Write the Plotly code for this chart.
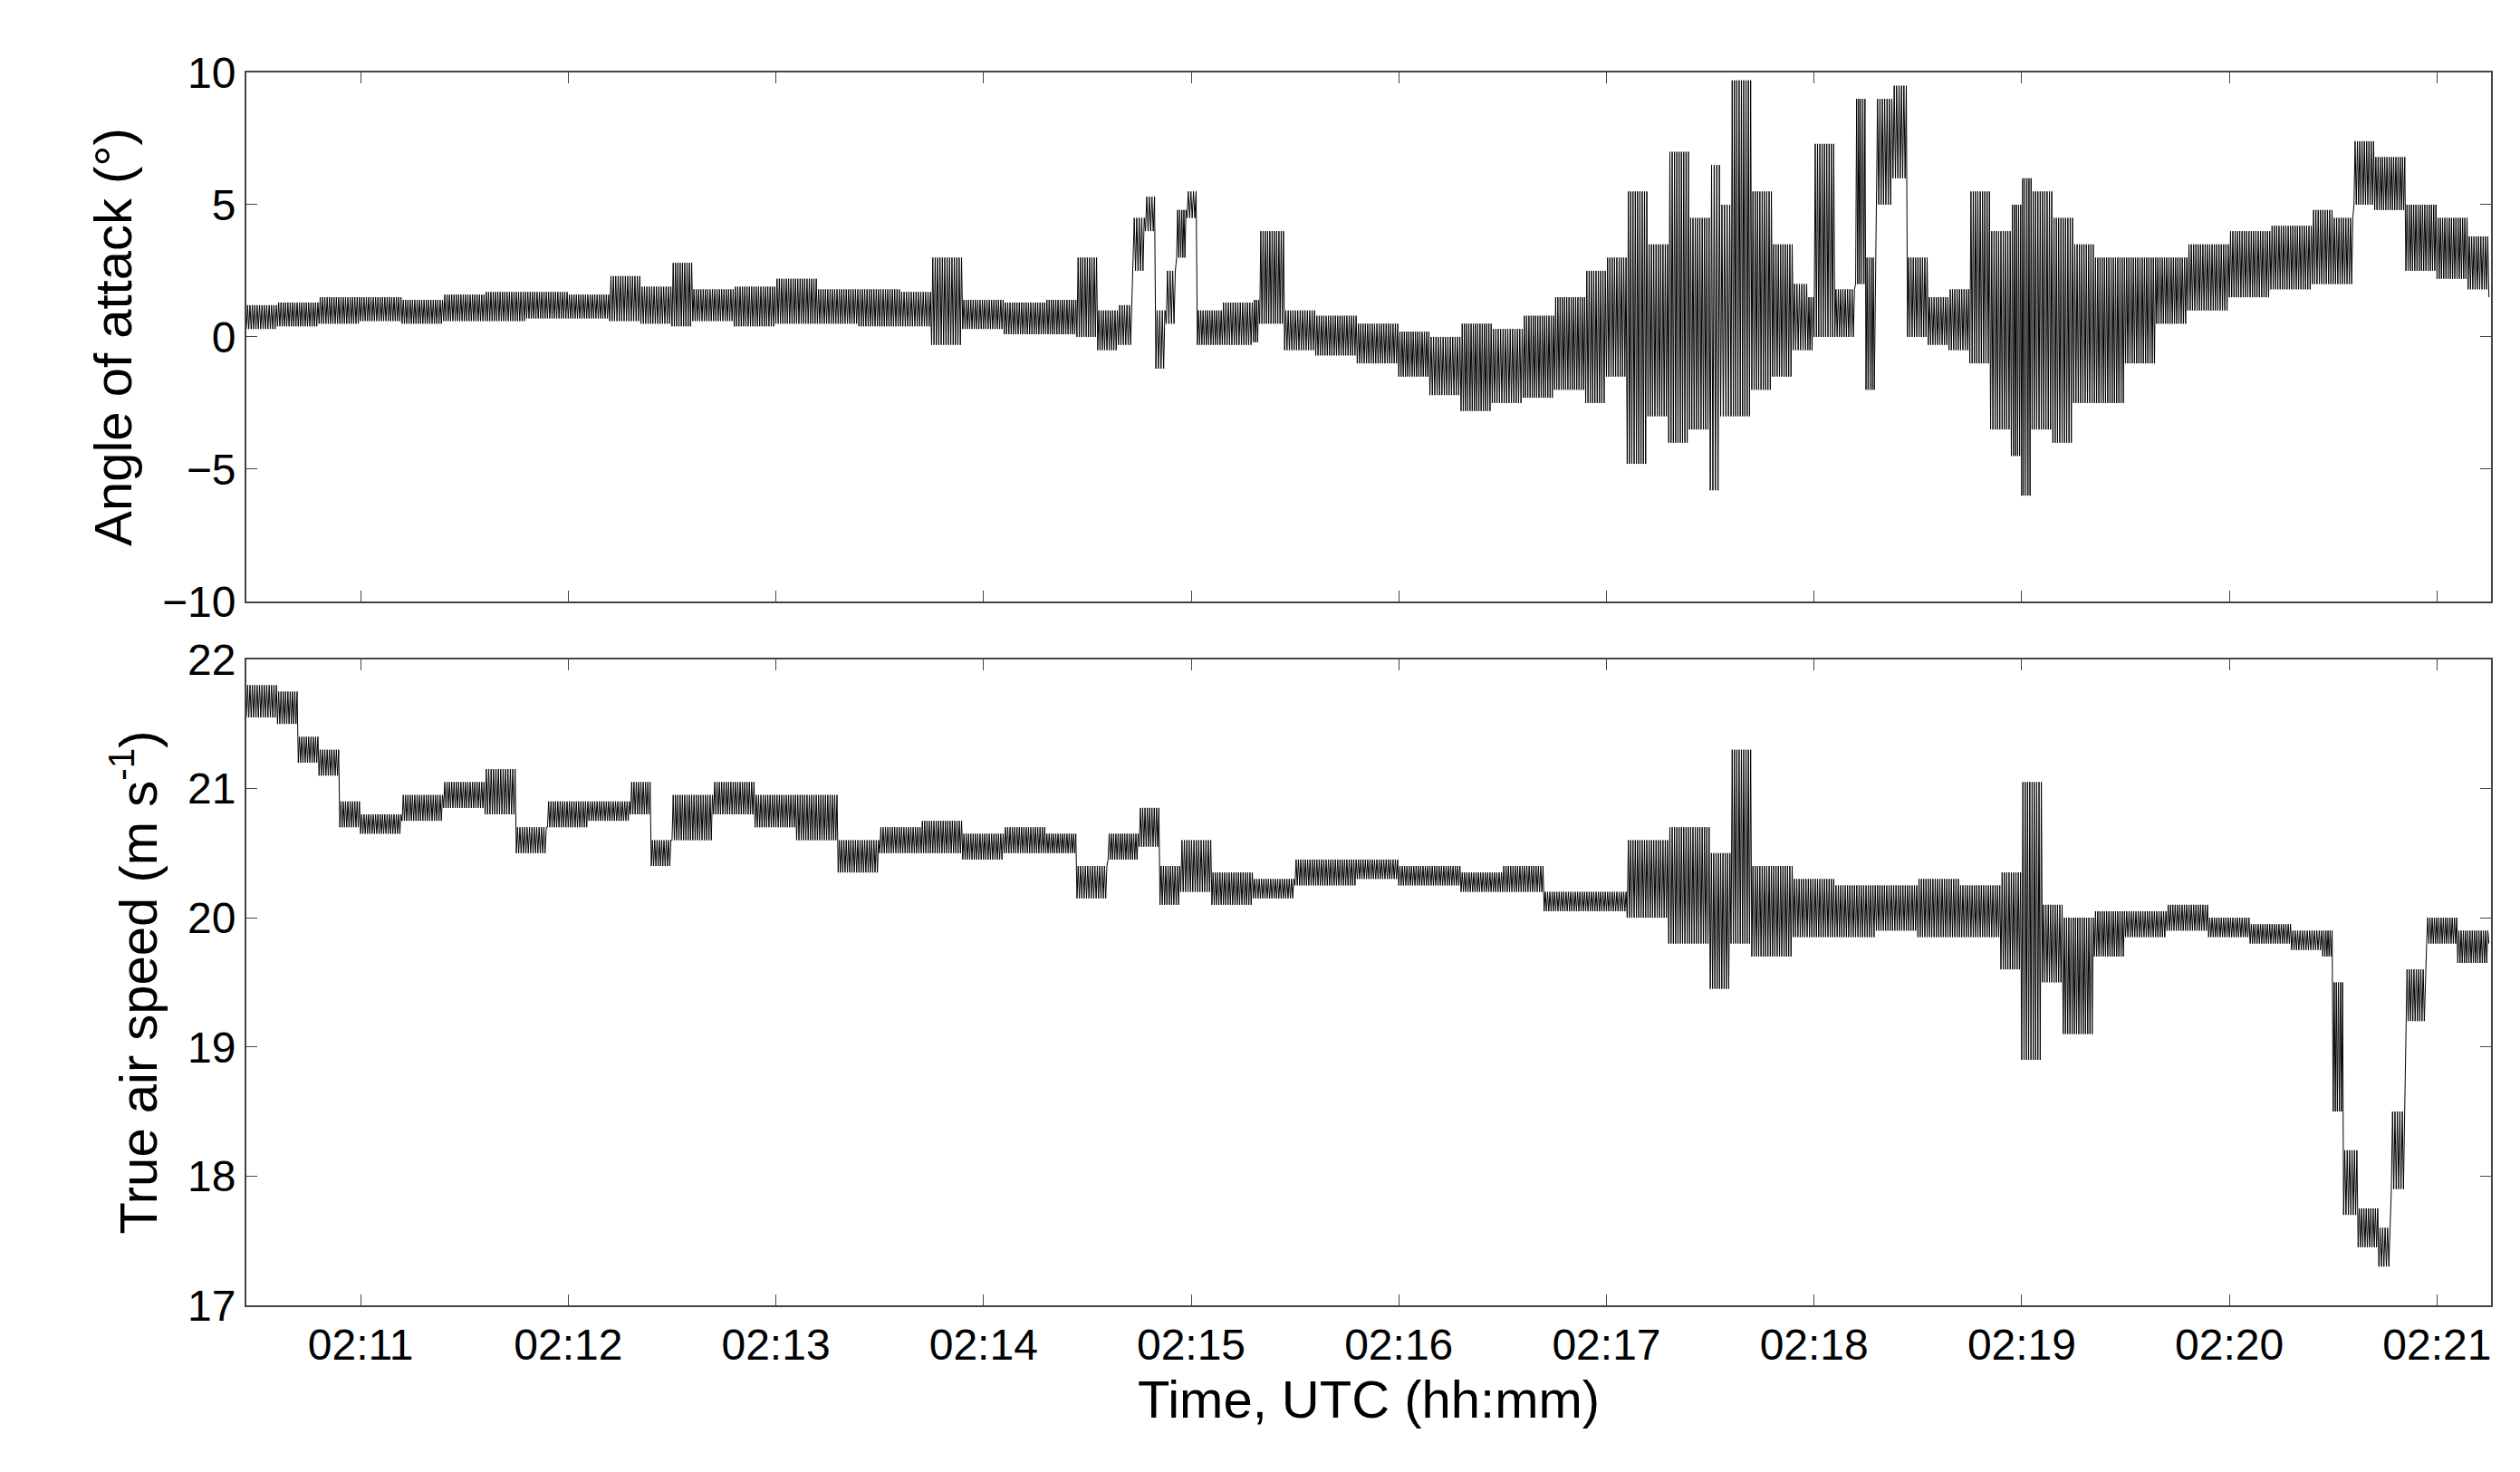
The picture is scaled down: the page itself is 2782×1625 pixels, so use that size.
import plotly.graph_objects as go
from plotly.subplots import make_subplots
import pandas as pd

base = pd.Timestamp("2017-01-01 02:10:00")

# Angle of attack: time (min after 02:10), band low / high (deg)
aoa_t = [0.45,0.6,0.8,1.0,1.2,1.4,1.6,1.8,2.0,2.2,2.35,2.5,2.6,2.8,3.0,3.2,3.4,3.6,3.75,3.9,4.1,4.3,4.45,4.55,4.65,4.72,4.78,4.83,4.88,4.93,4.98,5.03,5.15,5.3,5.33,5.45,5.6,5.8,6.0,6.15,6.3,6.45,6.6,6.75,6.9,7.0,7.1,7.2,7.3,7.4,7.5,7.55,7.6,7.7,7.8,7.9,7.97,8.0,8.1,8.2,8.25,8.3,8.38,8.45,8.55,8.65,8.75,8.85,8.95,9.0,9.05,9.15,9.25,9.35,9.5,9.65,9.8,10.0,10.2,10.4,10.5,10.6,10.7,10.85,11.0,11.15,11.25]
aoa_lo = [0.3,0.4,0.5,0.6,0.5,0.6,0.6,0.7,0.7,0.6,0.5,0.4,0.6,0.4,0.5,0.5,0.4,0.4,-0.3,0.3,0.1,0.1,0.0,-0.5,-0.3,2.5,4.0,-1.2,0.5,3.0,4.5,-0.3,-0.3,-0.2,0.5,-0.5,-0.7,-1.0,-1.5,-2.2,-2.8,-2.5,-2.3,-2.0,-2.5,-1.5,-4.8,-3.0,-4.0,-3.5,-5.8,-3.0,-3.0,-2.0,-1.5,-0.5,-0.5,0.0,0.0,2.0,-2.0,5.0,6.0,0.0,-0.3,-0.5,-1.0,-3.5,-4.5,-6.0,-3.5,-4.0,-2.5,-2.5,-1.0,0.5,1.0,1.5,1.8,2.0,2.0,5.0,4.8,2.5,2.2,1.8,1.5]
aoa_hi = [1.2,1.3,1.5,1.5,1.4,1.6,1.7,1.7,1.6,2.3,1.9,2.8,1.8,1.9,2.2,1.8,1.8,1.7,3.0,1.4,1.3,1.4,3.0,1.0,1.2,4.5,5.3,1.0,2.5,4.8,5.5,1.0,1.3,1.4,4.0,1.0,0.8,0.5,0.2,0.0,0.5,0.3,0.8,1.5,2.5,3.0,5.5,3.5,7.0,4.5,6.5,5.0,9.7,5.5,3.5,2.0,1.5,7.3,1.8,9.0,3.0,9.0,9.5,3.0,1.5,1.8,5.5,4.0,5.0,6.0,5.5,4.5,3.5,3.0,3.0,3.0,3.5,4.0,4.2,4.8,4.5,7.4,6.8,5.0,4.5,3.8,3.2]

# True air speed: time (min after 02:10), band low / high (m/s)
tas_t = [0.45,0.6,0.7,0.8,0.9,1.0,1.2,1.4,1.6,1.75,1.9,2.1,2.3,2.4,2.5,2.7,2.9,3.1,3.3,3.5,3.7,3.9,4.1,4.3,4.45,4.6,4.75,4.85,4.95,5.1,5.3,5.5,5.8,6.0,6.3,6.5,6.7,6.9,7.1,7.3,7.5,7.6,7.7,7.9,8.1,8.3,8.5,8.7,8.9,9.0,9.1,9.2,9.35,9.5,9.7,9.9,10.1,10.3,10.45,10.5,10.55,10.62,10.72,10.78,10.85,10.95,11.1,11.25]
tas_lo = [21.55,21.5,21.2,21.1,20.7,20.65,20.75,20.85,20.8,20.5,20.7,20.75,20.8,20.4,20.6,20.8,20.7,20.6,20.35,20.5,20.5,20.45,20.5,20.5,20.15,20.45,20.55,20.1,20.2,20.1,20.15,20.25,20.3,20.25,20.2,20.2,20.05,20.05,20.0,19.8,19.45,19.8,19.7,19.85,19.85,19.9,19.85,19.85,19.6,18.9,19.5,19.1,19.7,19.85,19.9,19.85,19.8,19.75,19.7,18.5,17.7,17.45,17.3,17.9,19.2,19.8,19.65,19.8]
tas_hi = [21.8,21.75,21.4,21.3,20.9,20.8,20.95,21.05,21.15,20.7,20.9,20.9,21.05,20.6,20.95,21.05,20.95,20.95,20.6,20.7,20.75,20.65,20.7,20.65,20.4,20.65,20.85,20.4,20.6,20.35,20.3,20.45,20.45,20.4,20.35,20.4,20.2,20.2,20.6,20.7,20.5,21.3,20.4,20.3,20.25,20.25,20.3,20.25,20.35,21.05,20.1,20.0,20.05,20.05,20.1,20.0,19.95,19.9,19.9,19.5,18.2,17.75,17.6,18.5,19.6,20.0,19.9,20.1]

def band(t, lo, hi, per_min=180):
    xs, ys = [], []
    for i in range(len(t) - 1):
        n = max(2, int(round((t[i + 1] - t[i]) * per_min / 2)) * 2)
        dt = (t[i + 1] - t[i]) / n
        for j in range(n):
            xs.append(base + pd.Timedelta(minutes=t[i] + j * dt))
            ys.append(lo[i] if j % 2 == 0 else hi[i])
    xs.append(base + pd.Timedelta(minutes=t[-1])); ys.append(lo[-1])
    return xs, ys

fig = make_subplots(rows=2, cols=1, shared_xaxes=True, vertical_spacing=0.05)
x1, y1 = band(aoa_t, aoa_lo, aoa_hi)
x2, y2 = band(tas_t, tas_lo, tas_hi)
fig.add_trace(go.Scatter(x=x1, y=y1, mode="lines", line=dict(color="black", width=1)), 1, 1)
fig.add_trace(go.Scatter(x=x2, y=y2, mode="lines", line=dict(color="black", width=1)), 2, 1)

xr = [base + pd.Timedelta(minutes=0.45), base + pd.Timedelta(minutes=11.26)]
ax = dict(range=xr, showline=True, linecolor="#444", linewidth=2, mirror="ticks", ticks="inside",
          ticklen=12, tickcolor="#444", showgrid=False, zeroline=False, dtick=60000, tickformat="%H:%M")
fig.update_xaxes(**ax)
fig.update_xaxes(showticklabels=False, row=1, col=1)
fig.update_xaxes(title_text="Time, UTC (hh:mm)", row=2, col=1)
ay = dict(showline=True, linecolor="#444", linewidth=2, mirror="ticks", ticks="inside", ticklen=12,
          tickcolor="#444", showgrid=False, zeroline=False)
fig.update_yaxes(**ay)
fig.update_yaxes(range=[-10, 10], dtick=5, title_text="Angle of attack (°)", row=1, col=1)
fig.update_yaxes(range=[17, 22], dtick=1, title_text="True air speed (m s<sup>-1</sup>)", row=2, col=1)
fig.update_layout(yaxis=dict(domain=[0.571, 1.0]), yaxis2=dict(domain=[0.0, 0.524]))
fig.update_layout(width=2782, height=1625, showlegend=False, plot_bgcolor="white", paper_bgcolor="white",
                  margin=dict(l=264, r=40, t=72, b=192),
                  font=dict(family="Liberation Sans, Arial", size=48, color="black"))
fig.write_html("out.html")
